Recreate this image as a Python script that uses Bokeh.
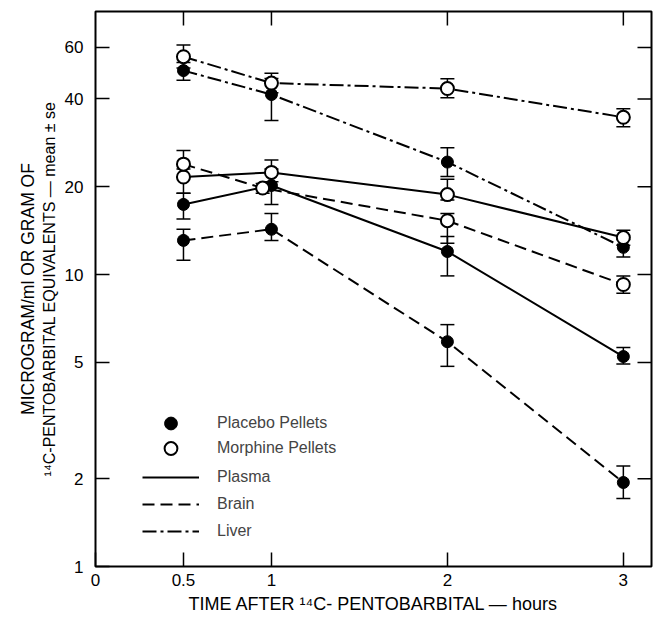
from bokeh.plotting import figure
from bokeh.models import (ColumnDataSource, Whisker, TeeHead, FixedTicker, Legend,
                          LegendItem, Range1d, LogAxis)
from bokeh.embed import file_html
from bokeh.resources import INLINE
from math import pi

# ---------------- data ----------------
hours = [0.5, 1, 2, 3]
hours_morphine_brain = [0.5, 0.95, 2, 3]

placebo_plasma = [17.4, 20.2, 12.0, 5.24]
placebo_plasma_lo = [15.5, 17.4, 9.9, 4.94]
placebo_plasma_hi = [19.0, 23.0, 13.5, 5.63]

placebo_brain = [13.1, 14.3, 5.89, 1.94]
placebo_brain_lo = [11.2, 13.1, 4.85, 1.71]
placebo_brain_hi = [14.3, 16.2, 6.74, 2.21]

placebo_liver = [50.0, 41.4, 24.3, 12.4]
placebo_liver_lo = [46.3, 33.7, 21.7, 11.5]
placebo_liver_hi = [53.3, 47.0, 27.2, 13.2]

morphine_plasma = [21.6, 22.4, 18.8, 13.4]
morphine_plasma_lo = [19.0, 20.8, 18.0, 12.6]
morphine_plasma_hi = [23.0, 24.7, 21.2, 14.2]

morphine_brain = [23.9, 19.8, 15.3, 9.25]
morphine_brain_lo = [21.5, 19.0, 12.8, 8.63]
morphine_brain_hi = [26.6, 20.5, 16.2, 9.9]

morphine_liver = [55.8, 45.3, 43.4, 34.6]
morphine_liver_lo = [51.0, 42.0, 40.4, 32.1]
morphine_liver_hi = [61.2, 49.0, 46.9, 37.0]

x_ticks = [0, 0.5, 1, 2, 3]
x_tick_labels = ["0", "0.5", "1", "2", "3"]
y_ticks = [1, 2, 5, 10, 20, 40, 60]
y_tick_labels = ["1", "2", "5", "10", "20", "40", "60"]
x_start, x_end = 0, 3.16
y_start, y_end = 1, 79.7

legend_labels = ["Placebo Pellets", "Morphine Pellets", "Plasma", "Brain", "Liver"]
x_title = "TIME AFTER \u00b9\u2074C- PENTOBARBITAL \u2014 hours"
y_title_1 = "MICROGRAM/ml OR GRAM OF"
y_title_2 = "\u00b9\u2074C-PENTOBARBITAL EQUIVALENTS \u2014 mean \u00b1 se"

FONT = "Liberation Sans"

# ---------------- figure ----------------
p = figure(width=653, height=617, x_range=Range1d(x_start, x_end),
           y_range=Range1d(y_start, y_end), y_axis_type="log",
           output_backend="svg", toolbar_location=None,
           min_border_left=95, min_border_right=2, min_border_top=11, min_border_bottom=51)
p.xgrid.visible = False
p.ygrid.visible = False
p.outline_line_color = "black"
p.outline_line_width = 2
p.outline_line_alpha = 1
p.background_fill_color = "white"

xa = p.xaxis[0]
xa.ticker = FixedTicker(ticks=x_ticks)
xa.major_label_overrides = {t: l for t, l in zip(x_ticks, x_tick_labels)}
ya = p.yaxis[0]
ya.ticker = FixedTicker(ticks=y_ticks)
ya.major_label_overrides = {t: l for t, l in zip(y_ticks, y_tick_labels)}
for ax in (xa, ya):
    ax.major_tick_in = 14
    ax.major_tick_out = 0
    ax.major_tick_line_width = 1.5
    ax.major_tick_line_color = "black"
    ax.minor_tick_line_color = None
    ax.axis_line_color = None
    ax.major_label_text_font = FONT
    ax.major_label_text_font_size = "17px"
    ax.major_label_text_color = "black"
    ax.axis_label_text_font = FONT
    ax.axis_label_text_font_style = "normal"
    ax.axis_label_text_color = "black"
xa.major_label_standoff = 7
ya.major_label_standoff = 12
xa.axis_label = x_title
xa.axis_label_text_font_size = "18px"
xa.axis_label_standoff = 5
ya.axis_label = y_title_2
ya.axis_label_text_font_size = "16px"
ya.axis_label_standoff = 4

# outer left axis carrying only the first line of the y title
ya2 = LogAxis(ticker=FixedTicker(ticks=[]), axis_label=y_title_1,
              axis_label_text_font=FONT, axis_label_text_font_style="normal",
              axis_label_text_font_size="17.5px", axis_label_text_color="black",
              axis_label_standoff=0, major_tick_out=0, major_tick_in=0,
              major_label_standoff=0, minor_tick_line_color=None, axis_line_color=None)
p.add_layout(ya2, "left")

# inward ticks on the top and right frame edges (clipped to the frame)
right_src = ColumnDataSource(dict(x=[x_end] * (len(y_ticks) - 1), y=y_ticks[1:]))
top_src = ColumnDataSource(dict(x=x_ticks[1:], y=[y_end] * (len(x_ticks) - 1)))
p.scatter("x", "y", source=right_src, marker="dash", size=28, line_color="black",
          line_width=1.5)
p.scatter("x", "y", source=top_src, marker="dash", size=28, angle=pi / 2,
          line_color="black", line_width=1.5)

# ---------------- series ----------------
series = [
    ("placebo", "plasma", hours, placebo_plasma, placebo_plasma_lo, placebo_plasma_hi),
    ("placebo", "brain", hours, placebo_brain, placebo_brain_lo, placebo_brain_hi),
    ("placebo", "liver", hours, placebo_liver, placebo_liver_lo, placebo_liver_hi),
    ("morphine", "plasma", hours, morphine_plasma, morphine_plasma_lo, morphine_plasma_hi),
    ("morphine", "brain", hours_morphine_brain, morphine_brain, morphine_brain_lo, morphine_brain_hi),
    ("morphine", "liver", hours, morphine_liver, morphine_liver_lo, morphine_liver_hi),
]
dash = {"plasma": "solid", "brain": "12 6", "liver": "14 4 3 4"}

line_r = {}
mark_r = {}
for treat, tissue, xs, ys, lo, hi in series:
    src = ColumnDataSource(dict(x=xs, y=ys, lo=lo, hi=hi))
    w = Whisker(source=src, base="x", lower="lo", upper="hi", line_width=1.5, line_color="black",
                lower_head=TeeHead(size=14, line_width=1.5, line_color="black"),
                upper_head=TeeHead(size=14, line_width=1.5, line_color="black"))
    p.add_layout(w)
    lr = p.line("x", "y", source=src, line_color="black", line_width=2, line_dash=dash[tissue])
    line_r[(treat, tissue)] = lr

for treat, tissue, xs, ys, lo, hi in series:
    src = ColumnDataSource(dict(x=xs, y=ys))
    if treat == "placebo":
        mr = p.scatter("x", "y", source=src, size=12, marker="circle", fill_color="black",
                       line_color="black", line_width=1)
    else:
        mr = p.scatter("x", "y", source=src, size=13, marker="circle", fill_color="white",
                       line_color="black", line_width=2)
    mark_r[(treat, tissue)] = mr

legend_style = dict(glyph_width=57, padding=0, margin=0, border_line_color=None,
                    background_fill_alpha=0, label_text_font=FONT,
                    label_text_font_size="16px", label_standoff=18)
leg_a = Legend(items=[LegendItem(label=legend_labels[0],
                                 renderers=[mark_r[("placebo", "plasma")]])],
               location=(47, 127), glyph_height=32, label_height=32, spacing=0, **legend_style)
leg_b = Legend(items=[LegendItem(label=legend_labels[1],
                                 renderers=[mark_r[("morphine", "plasma")]])],
               location=(47, 102), glyph_height=32, label_height=32, spacing=0, **legend_style)
leg_c = Legend(items=[
    LegendItem(label=legend_labels[2], renderers=[line_r[("placebo", "plasma")]]),
    LegendItem(label=legend_labels[3], renderers=[line_r[("placebo", "brain")]]),
    LegendItem(label=legend_labels[4], renderers=[line_r[("placebo", "liver")]]),
], location=(47, 25), glyph_height=20, label_height=20, spacing=7, **legend_style)
for leg in (leg_a, leg_b, leg_c):
    p.add_layout(leg)

open("out.html", "w").write(file_html(p, INLINE))
